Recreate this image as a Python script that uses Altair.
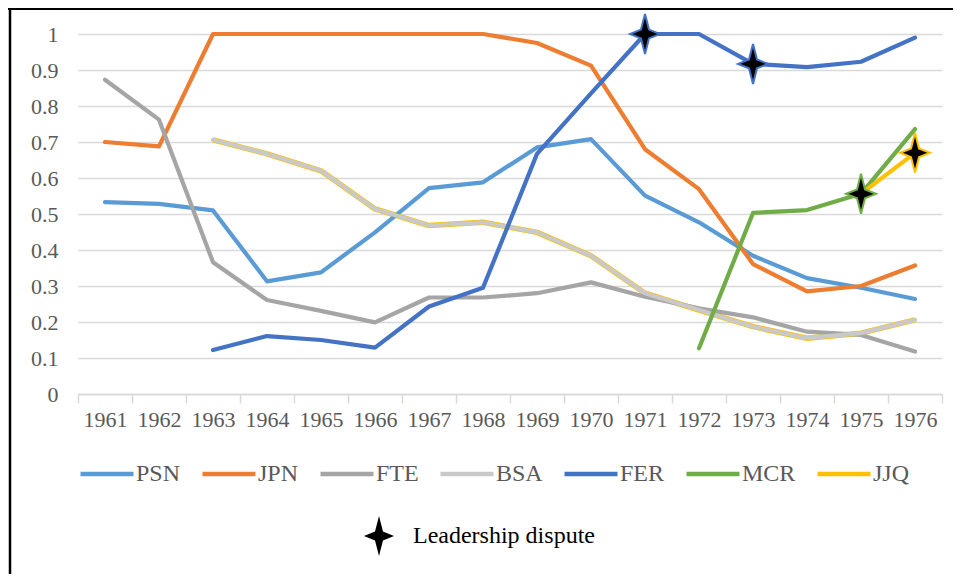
import altair as alt
import pandas as pd

# ---------------- data ----------------
years = ["1961", "1962", "1963", "1964", "1965", "1966", "1967", "1968",
         "1969", "1970", "1971", "1972", "1973", "1974", "1975", "1976"]

series_names = ["PSN", "JPN", "FTE", "BSA", "FER", "MCR", "JJQ"]
series_colors = ["#5B9BD5", "#ED7D31", "#A5A5A5", "#C9C9C9", "#4472C4", "#70AD47", "#FFC000"]

PSN = [0.533, 0.528, 0.510, 0.313, 0.338, 0.449, 0.572, 0.588,
       0.685, 0.708, 0.551, 0.477, 0.384, 0.322, 0.295, 0.264]
JPN = [0.700, 0.688, 1.000, 1.000, 1.000, 1.000, 1.000, 1.000,
       0.975, 0.912, 0.680, 0.569, 0.361, 0.285, 0.300, 0.357]
FTE = [0.873, 0.762, 0.366, 0.261, 0.231, 0.199, 0.268, 0.268,
       0.280, 0.310, 0.270, 0.238, 0.213, 0.173, 0.164, 0.118]
BSA = [None, None, 0.706, 0.667, 0.620, 0.514, 0.468, 0.477,
       0.449, 0.384, 0.280, 0.233, 0.187, 0.155, 0.169, 0.206]
FER = [None, None, 0.122, 0.161, 0.150, 0.129, 0.243, 0.295,
       0.667, 0.835, 1.000, 1.000, 0.917, 0.908, 0.923, 0.990]
MCR = [None, None, None, None, None, None, None, None,
       None, None, None, 0.127, 0.503, 0.511, 0.556, 0.736]
JJQ = [None, None, None, None, None, None, None, None,
       None, None, None, None, None, None, 0.556, 0.670]

dispute_years = ["1971", "1973", "1975", "1976"]
dispute_series = ["FER", "FER", "MCR", "JJQ"]
dispute_label = "Leadership dispute"

# ---------------- tables ----------------
all_values = dict(zip(series_names, [PSN, JPN, FTE, BSA, FER, MCR, JJQ]))
rows = []
for name in series_names:
    for yr, v in zip(years, all_values[name]):
        if v is not None:
            rows.append({"year": yr, "series": name, "value": v})
df = pd.DataFrame(rows)
df_bsa = df[df["series"] == "BSA"]

drows = []
for yr, s in zip(dispute_years, dispute_series):
    v = all_values[s][years.index(yr)]
    drows.append({"year": yr, "series": s, "value": v, "label": dispute_label})
df_d = pd.DataFrame(drows)

FONT = "Liberation Serif"
STAR = "M0,-1 L0.2,-0.22 L0.75,0 L0.2,0.22 L0,1 L-0.2,0.22 L-0.75,0 L-0.2,-0.22 Z"

x_enc = alt.X(
    "year:O",
    scale=alt.Scale(type="band", domain=years, paddingInner=0, paddingOuter=0),
    axis=alt.Axis(title=None, labelAngle=0, tickBand="extent", grid=False,
                  domainColor="#D9D9D9", domainWidth=1.5,
                  tickColor="#D9D9D9", tickWidth=1.5, tickSize=9,
                  labelPadding=6, labelFont=FONT, labelFontSize=22,
                  labelColor="#595959"),
)
y_enc = alt.Y(
    "value:Q",
    scale=alt.Scale(domain=[0, 1], nice=False, zero=True),
    axis=alt.Axis(title=None, values=[0, 0.1, 0.2, 0.3, 0.4, 0.5, 0.6, 0.7, 0.8, 0.9, 1.0],
                  format=".1~f", grid=True, gridColor="#D9D9D9", gridWidth=1.5,
                  domain=False, ticks=False, labelPadding=20,
                  labelFont=FONT, labelFontSize=22, labelColor="#595959"),
)

bsa_edge = alt.Chart(df_bsa).mark_line(
    color="#FFC000", strokeWidth=5.5, strokeJoin="round"
).encode(x=x_enc, y=y_enc)

lines = alt.Chart(df).mark_line(strokeWidth=4.2, strokeJoin="round", strokeCap="round").encode(
    x=x_enc,
    y=y_enc,
    color=alt.Color(
        "series:N",
        scale=alt.Scale(domain=series_names, range=series_colors),
        legend=alt.Legend(title=None, orient="none", legendX=0, legendY=411,
                          direction="horizontal", symbolType="stroke",
                          symbolSize=2809, symbolStrokeWidth=4.5,
                          labelFont=FONT, labelFontSize=24, labelColor="#595959",
                          labelOffset=0, columnPadding=12, labelLimit=200),
    ),
)

stars = alt.Chart(df_d).mark_point(
    filled=True, fill="black", size=1600, strokeWidth=2, opacity=1, strokeOpacity=1
).encode(
    x=x_enc,
    y=y_enc,
    shape=alt.Shape(
        "label:N",
        scale=alt.Scale(domain=[dispute_label], range=[STAR]),
        legend=alt.Legend(title=None, orient="none", legendX=280, legendY=481,
                          symbolSize=1600, symbolFillColor="black",
                          symbolStrokeColor="#4472C4", symbolStrokeWidth=2,
                          labelFont=FONT, labelFontSize=24, labelColor="black",
                          labelOffset=13, labelLimit=400),
    ),
    stroke=alt.Stroke("series:N",
                      scale=alt.Scale(domain=series_names, range=series_colors),
                      legend=None),
)

dummy = pd.DataFrame({"a": [0]})
border_left = alt.Chart(dummy).mark_rule(color="black", strokeWidth=2.5).encode(
    x=alt.value(-68), y=alt.value(-26), y2=alt.value(540))
border_top = alt.Chart(dummy).mark_rule(color="black", strokeWidth=3).encode(
    x=alt.value(-70), x2=alt.value(880), y=alt.value(-25.5))

chart = alt.layer(bsa_edge, lines, stars, border_left, border_top).properties(
    width=864,
    height=360,
    padding={"left": 70, "top": 26, "right": 11, "bottom": 180},
    autosize=alt.AutoSizeParams(type="none"),
    background="white",
).configure(font=FONT).configure_view(stroke=None).resolve_scale(color="independent")

chart.save("out.html", embed_options={"renderer": "svg", "actions": False})
